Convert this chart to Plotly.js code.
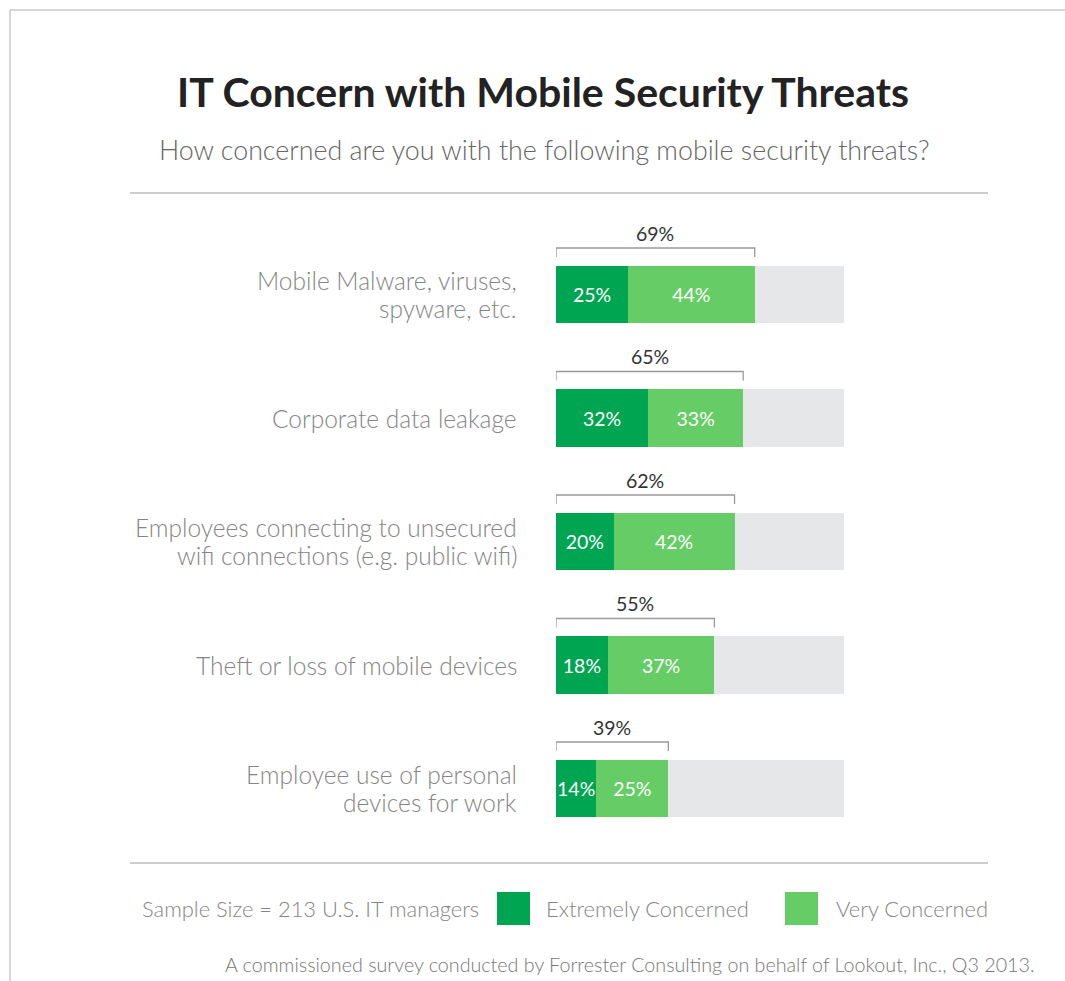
<!DOCTYPE html>
<html>
<head>
<meta charset="utf-8">
<script src="https://cdn.plot.ly/plotly-3.0.1.min.js"></script>
<style>
html,body{margin:0;padding:0;background:#fff;}
#chart{width:1065px;height:981px;}
</style>
</head>
<body>
<div id="chart"></div>
<script>
// ---- data ----
const categories = [
  "Mobile Malware, viruses,<br>spyware, etc.",
  "Corporate data leakage",
  "Employees connecting to unsecured<br>wifi connections (e.g. public wifi)",
  "Theft or loss of mobile devices",
  "Employee use of personal<br>devices for work"
];
const extremely = [25, 32, 20, 18, 14];
const very = [44, 33, 42, 37, 25];
const totals = [69, 65, 62, 55, 39];
const seriesNames = ["Extremely Concerned", "Very Concerned"];
const titleText = "IT Concern with Mobile Security Threats";
const subtitleText = "How concerned are you with the following mobile security threats?";
const sampleText = "Sample Size = 213 U.S. IT managers";
const sourceText = "A commissioned survey conducted by Forrester Consulting on behalf of Lookout, Inc., Q3 2013.";

// ---- layout geometry ----
const W = 1065, H = 981;
const mL = 556, mR = 221, mT = 200, mB = 111;
const plotW = W - mL - mR, plotH = H - mT - mB;
const px2x = px => (px - mL) / plotW;
const px2y = py => (H - mB - py) / plotH;
const rowPx = 123.5;
const yTop = -(294.5 - mT) / rowPx;
const yBot = yTop + plotH / rowPx;
const unit = 1 / rowPx;

const C_DARK = "#00A551", C_LIGHT = "#66CD66", C_GRAY = "#E6E7E8";
const FONT = "Lato, 'Open Sans', sans-serif";

const idx = categories.map((_, i) => i);
const rest = totals.map(t => 100 - t);

const traces = [
  {type: "bar", orientation: "h", y: idx, x: extremely, name: seriesNames[0],
   marker: {color: C_DARK}, width: 57.5 * unit,
   text: extremely.map(v => v + "%"), textposition: "inside", insidetextanchor: "middle",
   textangle: 0, constraintext: "none", textfont: {color: "#fff", size: 19.5, family: FONT, weight: 400},
   hoverinfo: "x+name", showlegend: false},
  {type: "bar", orientation: "h", y: idx, x: very, name: seriesNames[1],
   marker: {color: C_LIGHT}, width: 57.5 * unit,
   text: very.map(v => v + "%"), textposition: "inside", insidetextanchor: "middle",
   textangle: 0, constraintext: "none", textfont: {color: "#fff", size: 19.5, family: FONT, weight: 400},
   hoverinfo: "x+name", showlegend: false},
  {type: "bar", orientation: "h", y: idx, x: rest, name: "",
   marker: {color: C_GRAY}, width: 57.5 * unit, hoverinfo: "skip", showlegend: false}
];

const shapes = [];
const annotations = [];

// frame lines
shapes.push({type: "line", xref: "paper", yref: "paper", x0: px2x(10), x1: px2x(1065), y0: px2y(10), y1: px2y(10), line: {color: "#c8c8c8", width: 1.5}});
shapes.push({type: "line", xref: "paper", yref: "paper", x0: px2x(10), x1: px2x(10), y0: px2y(10), y1: px2y(981), line: {color: "#c8c8c8", width: 1.5}});
// rules
shapes.push({type: "line", xref: "paper", yref: "paper", x0: px2x(130), x1: px2x(988), y0: px2y(193), y1: px2y(193), line: {color: "#bdbdbd", width: 1.5}});
shapes.push({type: "line", xref: "paper", yref: "paper", x0: px2x(130), x1: px2x(988), y0: px2y(863), y1: px2y(863), line: {color: "#bdbdbd", width: 1.5}});

// brackets + total labels + category labels
const lineGap = 28.5;
idx.forEach(i => {
  const yl = i - 46.5 * unit, yt = i - 37.5 * unit;
  shapes.push({type: "path", xref: "x", yref: "y",
    path: `M0,${yt} L0,${yl} L${totals[i]},${yl} L${totals[i]},${yt}`,
    line: {color: "#9a9a9a", width: 1.3}});
  annotations.push({xref: "x", yref: "y", x: totals[i] / 2, y: i - 61.5 * unit,
    text: totals[i] + "%", showarrow: false, xanchor: "center", yanchor: "middle",
    font: {family: FONT, size: 19.5, color: "#333", weight: 400}});
  const lines = categories[i].split("<br>");
  lines.forEach((ln, k) => {
    const off = (k - (lines.length - 1) / 2) * lineGap;
    annotations.push({xref: "paper", yref: "y", x: px2x(519), y: i + off * unit,
      text: ln, showarrow: false, xanchor: "right", yanchor: "middle", align: "right",
      font: {family: FONT, size: 24.5, color: "#858585", weight: 300}});
  });
});

// title + subtitle
annotations.push({xref: "paper", yref: "paper", x: px2x(543), y: px2y(92), text: "<b>" + titleText + "</b>",
  showarrow: false, xanchor: "center", yanchor: "middle", font: {family: FONT, size: 41, color: "#222"}});
annotations.push({xref: "paper", yref: "paper", x: px2x(544), y: px2y(150), text: subtitleText,
  showarrow: false, xanchor: "center", yanchor: "middle", font: {family: FONT, size: 26.8, color: "#666", weight: 300}});

// legend row
annotations.push({xref: "paper", yref: "paper", x: px2x(140), y: px2y(908), text: sampleText,
  showarrow: false, xanchor: "left", yanchor: "middle", font: {family: FONT, size: 21.9, color: "#858585", weight: 300}});
shapes.push({type: "rect", xref: "paper", yref: "paper", x0: px2x(497), x1: px2x(530), y0: px2y(892), y1: px2y(925), fillcolor: C_DARK, line: {width: 0}});
annotations.push({xref: "paper", yref: "paper", x: px2x(544), y: px2y(908), text: seriesNames[0],
  showarrow: false, xanchor: "left", yanchor: "middle", font: {family: FONT, size: 21.9, color: "#858585", weight: 300}});
shapes.push({type: "rect", xref: "paper", yref: "paper", x0: px2x(785), x1: px2x(818), y0: px2y(892), y1: px2y(925), fillcolor: C_LIGHT, line: {width: 0}});
annotations.push({xref: "paper", yref: "paper", x: px2x(834), y: px2y(908), text: seriesNames[1],
  showarrow: false, xanchor: "left", yanchor: "middle", font: {family: FONT, size: 21.9, color: "#858585", weight: 300}});

// source
annotations.push({xref: "paper", yref: "paper", x: px2x(1037), y: px2y(964), text: sourceText,
  showarrow: false, xanchor: "right", yanchor: "middle", font: {family: FONT, size: 19.7, color: "#777", weight: 300}});

const layout = {
  width: W, height: H,
  margin: {l: mL, r: mR, t: mT, b: mB, pad: 0},
  paper_bgcolor: "#fff", plot_bgcolor: "rgba(0,0,0,0)",
  barmode: "stack",
  xaxis: {range: [0, 100], showgrid: false, zeroline: false, showticklabels: false, ticks: "", fixedrange: true},
  yaxis: {range: [yBot, yTop], showgrid: false, zeroline: false, showticklabels: false, ticks: "", fixedrange: true},
  shapes: shapes,
  annotations: annotations,
  showlegend: false,
  font: {family: FONT}
};

Plotly.newPlot("chart", traces, layout, {displayModeBar: false, staticPlot: true});
</script>
</body>
</html>
